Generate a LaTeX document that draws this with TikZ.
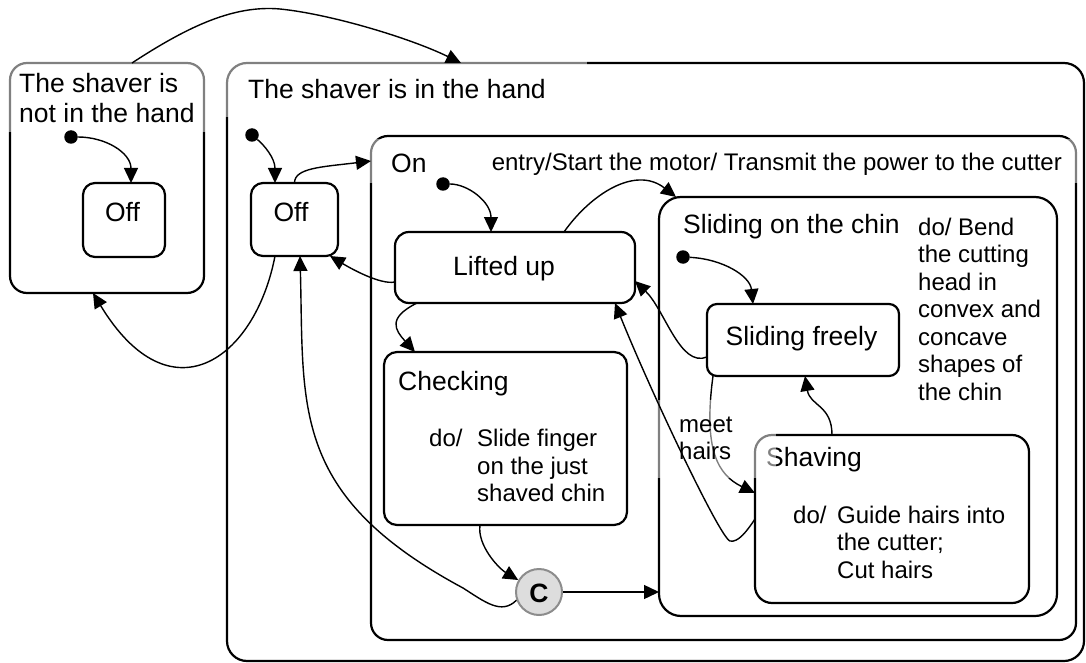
\documentclass[tikz,border=0pt]{standalone}
\usepackage{fontspec}
\setmainfont{Liberation Sans}
\usetikzlibrary{arrows.meta}

% left-aligned multi-line text whose baseline is the first line's
\newcommand\textlines[1]{\begin{tabular}[t]{@{}l@{}}#1\end{tabular}}

\definecolor{choicefill}{RGB}{221,221,221}
\definecolor{choiceedge}{RGB}{140,140,140}

\begin{document}
\begin{tikzpicture}[x=1pt,y=-1pt,
  stbox/.style={draw, line width=2.2pt, inner sep=0pt, outer sep=0pt, rounded corners=#1},
  stbox/.default=12pt,
  big/.style={font=\fontsize{26.5}{30.5}\selectfont, inner sep=0pt},
  small/.style={font=\fontsize{24}{27.5}\selectfont, inner sep=0pt},
  initdot/.style={circle, fill=black, inner sep=0pt, minimum size=13.5pt},
  trans/.style={line width=1.4pt, -{Triangle[length=15pt,width=14pt]}},
  veil/.style={fill=white, fill opacity=0.5, draw=none, inner sep=0pt, outer sep=0pt, anchor=north west}
]
\useasboundingbox (0,0) rectangle (1086,663);

% ---- state boxes ----
\node[stbox=17pt, minimum width=194pt, minimum height=230pt] (nh) at (107,178) {};
\node[stbox=12pt, minimum width=82pt, minimum height=74pt] (nhoff) at (124,220) {};
\node[stbox=20pt, minimum width=857pt, minimum height=598pt] (ih) at (655.5,362) {};
\node[stbox=12pt, minimum width=87pt, minimum height=73pt] (ihoff) at (294.5,219.5) {};
\node[stbox=17pt, minimum width=705pt, minimum height=504pt] (on) at (723.5,388) {};
\node[stbox=14pt, minimum width=240pt, minimum height=71pt] (lift) at (515,267.5) {};
\node[stbox=13pt, minimum width=243pt, minimum height=173pt] (chk) at (505.5,438.5) {};
\node[stbox=22pt, minimum width=398pt, minimum height=419pt] (slide) at (858,406.5) {};
\node[stbox=10pt, minimum width=192pt, minimum height=72pt] (free) at (803,340) {};
\node[stbox=17pt, minimum width=274pt, minimum height=168pt] (shave) at (892,519) {};

\node[big, anchor=base west] (shavelabel) at (766,466.5) {Shaving};

% meet hairs transition (lies under its label background)
\draw[trans] ([xshift=6pt]free.south west) .. controls (703,450) and (718,475) .. ([yshift=26pt]shave.west);

% ---- half-transparent label backgrounds ----
\node[veil, minimum width=205pt, minimum height=74pt] (nhveil) at (5,58) {};
\node[veil, minimum width=367pt, minimum height=59pt] (ihveil) at (220,58) {};
\node[veil, minimum width=715pt, minimum height=44pt] (onveil) at (365,139) {};
\node[veil, minimum width=121pt, minimum height=78pt] (meetveil) at (655,400) {};

% ---- texts ----
\node[big, anchor=base west] (nhlabel) at (19,92.5) {\textlines{The shaver is\\not in the hand}};
\node[big, anchor=base] (nhofftext) at (122.5,222) {Off};
\node[big, anchor=base west] (ihlabel) at (248,99) {The shaver is in the hand};
\node[big, anchor=base] (ihofftext) at (291,222) {Off};
\node[big, anchor=base west] (onlabel) at (391,172) {On};
\node[small, anchor=base east] (entry) at (1062,171) {entry/Start the motor/ Transmit the power to the cutter};
\node[big, anchor=base] (lifttext) at (504,275) {Lifted up};
\node[big, anchor=base west] (chklabel) at (398,390) {Checking};
\node[small, anchor=base west] (chkdo) at (429,446.5) {do/};
\node[small, anchor=base west] (chkact) at (477,446.5) {\textlines{Slide finger\\on the just\\shaved chin}};
\node[big, anchor=base west] (slidelabel) at (683,233) {Sliding on the chin};
\node[small, anchor=base west] (slidedo) at (918,235) {\textlines{do/ Bend\\the cutting\\head in\\convex and\\concave\\shapes of\\the chin}};
\node[big, anchor=base] (freetext) at (801.5,345) {Sliding freely};
\node[small, anchor=base west] (shavedo) at (793,523.3) {do/};
\node[small, anchor=base west] (shaveact) at (837,523.3) {\textlines{Guide hairs into\\the cutter;\\Cut hairs}};
\node[small, anchor=base west] (meet) at (679,432) {\textlines{meet\\hairs}};

% ---- initial pseudostates and choice point ----
\node[initdot] (nhdot) at (71,137) {};
\node[initdot] (ihdot) at (252,135) {};
\node[initdot] (ondot) at (443,184) {};
\node[initdot] (sldot) at (683,257) {};
\node[circle, draw=choiceedge, fill=choicefill, line width=2pt, minimum size=46pt, inner sep=0pt,
      font=\fontsize{26.5}{30}\selectfont\bfseries, text height=20pt, text depth=0pt] (cc) at (539,592) {C};

% ---- transitions ----
\draw[trans] ([xshift=25pt]nh.north) .. controls (190,25) and (235,5) .. (280,9)
  .. controls (330,14) and (410,38) .. ([xshift=-194.5pt]ih.north);
\draw[trans] (nhdot) .. controls +(35,0) and +(0,-30) .. ([xshift=7pt]nhoff.north);
\draw[trans] (ihdot) .. controls +(12,10) and +(0,-25) .. ([xshift=-19.5pt]ihoff.north);
\draw[trans] (ihoff.north) .. controls +(0,-15) and +(-50,6) .. ([yshift=-25pt]on.north west);
\draw[trans] (ondot) .. controls +(25,0) and +(0,-30) .. ([xshift=-24pt]lift.north);
\draw[trans] ([yshift=-14.5pt]lift.west) .. controls +(-15,3) and +(20,12) .. ([xshift=-8pt]ihoff.south east);
\draw[trans] ([xshift=22pt]lift.south west) .. controls +(-30,15) and +(-20,-22) .. ([xshift=31pt]chk.north west);
\draw[trans] ([xshift=-25.5pt]chk.south) .. controls +(-3,20) and +(-20,-12) .. (cc.150);
\draw[trans] (cc) -- (cc -| slide.west);
\draw[trans] (cc.200) .. controls +(-15,15) and +(22,14) .. (463,588)
  .. controls (290,495) and (304,408) .. ([xshift=5.5pt]ihoff.south);
\draw[trans] ([xshift=-19.5pt]ihoff.south) .. controls (255,360) and (170,420) .. ([xshift=-14pt]nh.south);
\draw[trans] ([xshift=49pt]lift.north) .. controls (590,195) and (635,165) .. ([xshift=17pt]slide.north west);
\draw[trans] (sldot) .. controls +(40,2) and +(-3,-28) .. ([xshift=-50pt]free.north);
\draw[trans] ([yshift=-17pt]free.west) .. controls (680,368) and (665,310) .. ([yshift=-13.5pt]lift.east);
\draw[trans] (shave.west) .. controls +(-8,12) and +(8,2) .. (730,541)
  .. controls (720,538) and (650,390) .. ([xshift=-20pt]lift.south east);
\draw[trans] ([xshift=-60pt]shave.north) .. controls +(0,-30) and +(5,30) .. ([xshift=2pt]free.south);
\end{tikzpicture}
\end{document}
